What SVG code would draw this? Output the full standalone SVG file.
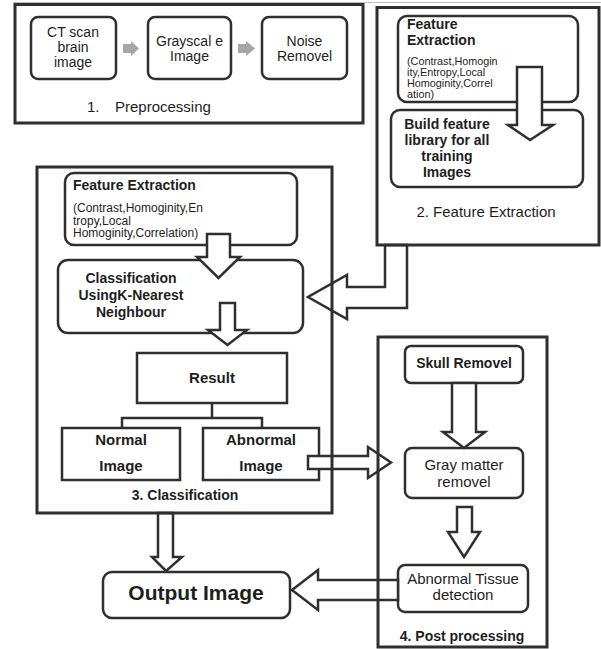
<svg xmlns="http://www.w3.org/2000/svg" width="601" height="649" viewBox="0 0 601 649">
<style>
  text { font-family: "Liberation Sans", Arial, sans-serif; fill: #1e1e1e; }
  .frame { fill: none; stroke: #2f2f2f; stroke-width: 3; }
  .box { fill: #fff; stroke: #2f2f2f; stroke-width: 2.5; }
  .arrow { fill: #fff; stroke: #2f2f2f; stroke-width: 2.5; stroke-linejoin: miter; }
  .garrow { fill: #a6a6a6; stroke: none; }
  .b { font-weight: bold; }
  .c { text-anchor: middle; }
  .n14 { font-size: 14px; }
  .n15 { font-size: 15px; }
  .s11 { font-size: 10.8px; }
  .s12 { font-size: 12px; }
  .line { fill: none; stroke: #2f2f2f; stroke-width: 2.5; }
</style>
<rect width="601" height="649" fill="#fff"/>
<line x1="13" y1="2.5" x2="601" y2="2.5" stroke="#bdbdbd" stroke-width="1"/>

<!-- 1. Preprocessing inner nodes -->
<g id="ct-scan">
  <rect class="box" x="31" y="17" width="85" height="62" rx="7"/>
  <text class="c n14" x="73" y="37">CT scan</text>
  <text class="c n14" x="73" y="52">brain</text>
  <text class="c n14" x="73" y="67">image</text>
</g>
<g id="grayscale">
  <rect class="box" x="148" y="17" width="83" height="62" rx="7"/>
  <text class="c n14" x="189.5" y="46">Grayscal e</text>
  <text class="c n14" x="189.5" y="61">Image</text>
</g>
<g id="noise-removel">
  <rect class="box" x="262" y="17" width="85" height="62" rx="7"/>
  <text class="c n14" x="304.5" y="46">Noise</text>
  <text class="c n14" x="304.5" y="61">Removel</text>
</g>
<g id="label-preprocessing">
  <text class="n15" x="87" y="112">1.</text>
  <text class="n15" x="115" y="112">Preprocessing</text>
</g>

<!-- 2. Feature Extraction inner nodes -->
<g id="fe-train">
  <rect class="box" x="398" y="16" width="180" height="86" rx="9"/>
  <text class="b n14" x="407" y="29">Feature</text>
  <text class="b n14" x="407" y="45">Extraction</text>
  <text class="s11" x="407" y="65">(Contrast,Homogin</text>
  <text class="s11" x="407" y="76">ity,Entropy,Local</text>
  <text class="s11" x="407" y="87">Homoginity,Correl</text>
  <text class="s11" x="407" y="98">ation)</text>
</g>
<g id="build-library">
  <rect class="box" x="391" y="110" width="192" height="77" rx="9"/>
  <text class="b c n14" x="447" y="129">Build feature</text>
  <text class="b c n14" x="447" y="144.5">library for all</text>
  <text class="b c n14" x="447" y="160.5">training</text>
  <text class="b c n14" x="447" y="176.5">Images</text>
</g>
<g id="label-feature-extraction">
  <text class="c n15" x="486" y="217">2. Feature Extraction</text>
</g>

<!-- 3. Classification inner nodes -->
<g id="fe-test">
  <rect class="box" x="65" y="173" width="232" height="72" rx="9"/>
  <text class="b n14" x="73" y="190">Feature Extraction</text>
  <text class="s12" x="73" y="212">(Contrast,Homoginity,En</text>
  <text class="s12" x="73" y="224.5">tropy,Local</text>
  <text class="s12" x="73" y="237">Homoginity,Correlation)</text>
</g>
<g id="knn">
  <rect class="box" x="58" y="260" width="245" height="73" rx="10"/>
  <text class="b c n14" x="131" y="283">Classification</text>
  <text class="b c n14" x="131" y="300">UsingK-Nearest</text>
  <text class="b c n14" x="131" y="317">Neighbour</text>
</g>
<g id="result">
  <rect class="box" x="137" y="353" width="150" height="50"/>
  <text class="b c n15" x="212" y="383">Result</text>
</g>
<g id="normal">
  <rect class="box" x="62" y="428" width="118" height="52"/>
  <text class="b c n15" x="121" y="445">Normal</text>
  <text class="b c n15" x="121" y="471">Image</text>
</g>
<g id="abnormal">
  <rect class="box" x="203" y="428" width="116" height="52"/>
  <text class="b c n15" x="261" y="445">Abnormal</text>
  <text class="b c n15" x="261" y="471">Image</text>
</g>
<g id="label-classification">
  <text class="b c n14" x="185" y="500">3. Classification</text>
</g>

<!-- 4. Post processing inner nodes -->
<g id="skull">
  <rect class="box" x="405" y="346" width="118" height="37" rx="6"/>
  <text class="b c n14" x="464" y="368">Skull Removel</text>
</g>
<g id="gray-matter">
  <rect class="box" x="405" y="448" width="118" height="50" rx="7"/>
  <text class="c n15" x="464" y="470">Gray matter</text>
  <text class="c n15" x="464" y="487">removel</text>
</g>
<g id="abnormal-tissue">
  <rect class="box" x="398" y="565" width="130" height="47" rx="7"/>
  <text class="c n15" x="463" y="584">Abnormal Tissue</text>
  <text class="c n15" x="463" y="600">detection</text>
</g>
<g id="label-post">
  <text class="b c n14" x="462" y="641">4. Post processing</text>
</g>

<!-- Output -->
<g id="output">
  <rect class="box" x="103" y="572" width="187" height="46" rx="9"/>
  <text class="b c" x="196" y="600" font-size="21">Output Image</text>
</g>

<!-- Connectors -->
<g id="connectors">
  <path class="garrow" d="M123,44 H131 V41 L139,48.5 L131,56 V53 H123 Z"/>
  <path class="garrow" d="M238,44 H246 V41 L255,48.5 L246,56 V53 H238 Z"/>
  <path class="arrow" d="M517,67 H542 V125 H553 L530,140 L508,125 H517 Z"/>
  <path class="arrow" d="M385,245 V287 H347 V275 L308,297 L347,319 V308 H407 V245 Z"/>
  <path class="arrow" d="M207,234 H230 V257 H240 L218.5,278 L197,257 H207 Z"/>
  <path class="arrow" d="M220,303 H235 V330 H247 L227.5,345 L208,330 H220 Z"/>
  <path class="line" d="M212,403 V418 M122,428 V418 H262 V428"/>
  <path class="arrow" d="M308,456 H368 V447 L391,462.5 L368,478 V469 H308 Z"/>
  <path class="arrow" d="M452,383 H476 V432 H485 L464,448 L443,432 H452 Z"/>
  <path class="arrow" d="M457,507 H472 V532 H480 L464,557 L448,532 H457 Z"/>
  <path class="arrow" d="M158,513 H173 V557 H182 L166,571 L152,557 H158 Z"/>
  <path class="arrow" d="M398,580 H318 V570 L292,590 L318,610 V600 H398 Z"/>
</g>

<!-- Container frames (drawn over connectors) -->
<g id="preprocessing">
  <rect class="frame" x="15" y="4.5" width="348" height="118.5"/>
</g>
<g id="feature-extraction">
  <rect class="frame" x="377" y="7.5" width="222" height="237.5"/>
</g>
<g id="classification">
  <rect class="frame" x="37" y="167" width="295" height="346"/>
</g>
<g id="post-processing">
  <rect class="frame" x="378" y="337" width="169" height="310"/>
</g>
</svg>
